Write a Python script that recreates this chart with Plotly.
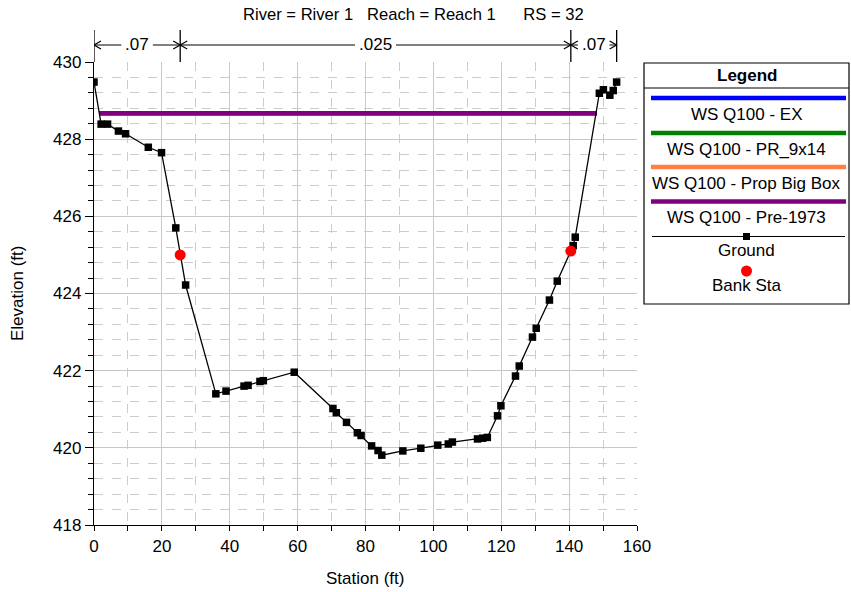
import plotly.graph_objects as go

# ---------------- data ----------------
ground_sta = [0.0, 2.1, 4.0, 7.2, 9.3, 16.0, 19.9, 24.1, 27.0, 35.9, 38.9, 44.2, 45.4,
              48.9, 49.9, 59.0, 70.4, 71.4, 74.4, 77.6, 78.7, 81.8, 83.7, 84.8, 91.0,
              96.3, 101.3, 104.4, 105.6, 113.0, 114.5, 115.9, 118.9, 119.9, 124.2,
              125.3, 129.2, 130.3, 134.2, 136.5, 141.2, 141.8, 148.9, 150.1, 152.0,
              153.0, 154.0]
ground_elev = [429.48, 428.39, 428.39, 428.21, 428.14, 427.79, 427.65, 425.70, 424.22,
               421.40, 421.47, 421.60, 421.62, 421.72, 421.74, 421.96, 421.02, 420.91,
               420.66, 420.39, 420.32, 420.05, 419.93, 419.81, 419.92, 419.99, 420.07,
               420.10, 420.15, 420.23, 420.25, 420.27, 420.83, 421.09, 421.86, 422.12,
               422.87, 423.10, 423.83, 424.32, 425.24, 425.46, 429.19, 429.28, 429.14,
               429.26, 429.48]
bank_sta = [25.4, 140.5]
bank_elev = [425.0, 425.1]

ws_names = ["WS Q100 - EX", "WS Q100 - PR_9x14", "WS Q100 - Prop Big Box", "WS Q100 - Pre-1973"]
ws_colors = ["#0000ff", "#008000", "#ff8040", "#800080"]
ws_sta = [1.5, 148.2]
ws_elev = [428.67, 428.67]

n_bounds = [0.0, 25.4, 140.5, 154.0]
n_values = [".07", ".025", ".07"]

title_text = "River = River 1   Reach = Reach 1      RS = 32"

# ---------------- layout constants ----------------
W, H = 851, 592
L, R, T, B = 94, 637, 62, 525
FONT = "Arial, Liberation Sans, sans-serif"
FS = 17
XR = [0, 160]
YR = [418, 430]


def xp(px):
    return (px - L) / (R - L)


def yp(py):
    return (B - py) / (B - T)


fig = go.Figure()

for name, col in zip(ws_names, ws_colors):
    fig.add_trace(go.Scatter(x=ws_sta, y=ws_elev, mode="lines", name=name,
                             line=dict(color=col, width=4.5), showlegend=False))

fig.add_trace(go.Scatter(x=ground_sta, y=ground_elev, mode="lines+markers", name="Ground",
                         line=dict(color="black", width=1.3),
                         marker=dict(symbol="square", size=7.5, color="black"),
                         showlegend=False))
fig.add_trace(go.Scatter(x=bank_sta, y=bank_elev, mode="markers", name="Bank Sta",
                         marker=dict(symbol="circle", size=11, color="#ff0000"),
                         showlegend=False))

shapes = []
annotations = []

# ---------------- Manning's n bar ----------------
px_per_x = (R - L) / (XR[1] - XR[0])
ybar = yp(45)
for b in n_bounds:
    shapes.append(dict(type="line", xref="x", yref="paper", x0=b, x1=b,
                       y0=yp(30), y1=yp(62), line=dict(color="black", width=1.3)))


def text_w(s, size=FS):
    w = {".": 0.278}
    return sum(w.get(c, 0.556) for c in s) * size


ah = 7 / px_per_x  # arrowhead length in data units
for i, n in enumerate(n_values):
    a, b = n_bounds[i], n_bounds[i + 1]
    c = (a + b) / 2
    half = (text_w(n) / 2 + 4) / px_per_x
    annotations.append(dict(x=c, y=ybar, xref="x", yref="paper", text=n, showarrow=False,
                            font=dict(size=FS, color="black", family=FONT),
                            xanchor="center", yanchor="middle"))
    if c - half > a + ah:
        shapes.append(dict(type="line", xref="x", yref="paper", x0=a, x1=c - half,
                           y0=ybar, y1=ybar, line=dict(color="black", width=1)))
        shapes.append(dict(type="line", xref="x", yref="paper", x0=c + half, x1=b,
                           y0=ybar, y1=ybar, line=dict(color="black", width=1)))
    dy = 4 / (B - T)
    for tip, d in ((a, 1), (b, -1)):
        shapes.append(dict(type="path", xref="x", yref="paper",
                           path=f"M {tip + d * ah} {ybar + dy} L {tip} {ybar} L {tip + d * ah} {ybar - dy}",
                           line=dict(color="black", width=1.2)))

# ---------------- top title ----------------
annotations.append(dict(x=xp(413), y=yp(15), xref="paper", yref="paper", text=title_text,
                        showarrow=False, font=dict(size=16.6, color="black", family=FONT),
                        xanchor="center", yanchor="middle"))

# ---------------- axis titles ----------------
annotations.append(dict(x=xp(365), y=yp(578), xref="paper", yref="paper", text="Station (ft)",
                        showarrow=False, font=dict(size=FS, color="black", family=FONT),
                        xanchor="center", yanchor="middle"))
annotations.append(dict(x=xp(17), y=yp(294), xref="paper", yref="paper", text="Elevation (ft)",
                        showarrow=False, textangle=-90,
                        font=dict(size=FS, color="black", family=FONT),
                        xanchor="center", yanchor="middle"))

# ---------------- custom legend ----------------
lx0, lx1, ly0, ly1 = 644, 849, 63, 304
shapes.append(dict(type="rect", xref="paper", yref="paper", x0=xp(lx0), x1=xp(lx1),
                   y0=yp(ly1), y1=yp(ly0), line=dict(color="black", width=1.2),
                   fillcolor="white", layer="below"))
shapes.append(dict(type="line", xref="paper", yref="paper", x0=xp(lx0), x1=xp(lx1),
                   y0=yp(88), y1=yp(88), line=dict(color="black", width=1)))
cx = (lx0 + lx1) / 2
annotations.append(dict(x=xp(cx), y=yp(75), xref="paper", yref="paper", text="<b>Legend</b>",
                        showarrow=False, font=dict(size=FS, color="black", family=FONT),
                        xanchor="center", yanchor="middle"))
line_y = [98, 133, 167, 201.5]
text_y = [114, 149, 183, 217]
for name, col, ly, ty in zip(ws_names, ws_colors, line_y, text_y):
    shapes.append(dict(type="line", xref="paper", yref="paper", x0=xp(651), x1=xp(846),
                       y0=yp(ly), y1=yp(ly), line=dict(color=col, width=4.5)))
    annotations.append(dict(x=xp(cx), y=yp(ty), xref="paper", yref="paper", text=name,
                            showarrow=False, font=dict(size=FS, color="black", family=FONT),
                            xanchor="center", yanchor="middle"))
# Ground entry
shapes.append(dict(type="line", xref="paper", yref="paper", x0=xp(652), x1=xp(845),
                   y0=yp(236.5), y1=yp(236.5), line=dict(color="black", width=1.2)))
shapes.append(dict(type="rect", xref="paper", yref="paper", x0=xp(cx - 3.5), x1=xp(cx + 3.5),
                   y0=yp(240), y1=yp(233), fillcolor="black", line=dict(width=0)))
annotations.append(dict(x=xp(cx), y=yp(251), xref="paper", yref="paper", text="Ground",
                        showarrow=False, font=dict(size=FS, color="black", family=FONT),
                        xanchor="center", yanchor="middle"))
# Bank Sta entry
shapes.append(dict(type="circle", xref="paper", yref="paper", x0=xp(cx - 5.5), x1=xp(cx + 5.5),
                   y0=yp(276.5), y1=yp(265.5), fillcolor="#ff0000", line=dict(width=0)))
annotations.append(dict(x=xp(cx), y=yp(285.5), xref="paper", yref="paper", text="Bank Sta",
                        showarrow=False, font=dict(size=FS, color="black", family=FONT),
                        xanchor="center", yanchor="middle"))

fig.update_layout(
    width=W, height=H,
    margin=dict(l=L, r=W - R, t=T, b=H - B, pad=0),
    plot_bgcolor="white", paper_bgcolor="white",
    showlegend=False,
    font=dict(family=FONT, size=FS, color="black"),
    shapes=shapes, annotations=annotations,
    xaxis=dict(range=XR, dtick=20, tick0=0, showgrid=True, gridcolor="#c8c8c8", gridwidth=1,
               showline=True, linecolor="black", linewidth=1.3, zeroline=False,
               ticks="outside", ticklen=5, tickcolor="black",
               tickfont=dict(size=FS, family=FONT),
               minor=dict(dtick=10, tick0=0, showgrid=True, gridcolor="#cccccc", griddash="dash",
                          gridwidth=1, ticks="outside", ticklen=5, tickcolor="black")),
    yaxis=dict(range=YR, dtick=2, tick0=418, showgrid=True, gridcolor="#c8c8c8", gridwidth=1,
               showline=True, linecolor="black", linewidth=1.3, zeroline=False,
               ticks="outside", ticklen=8, tickcolor="black",
               tickfont=dict(size=FS, family=FONT),
               minor=dict(dtick=0.4, tick0=418, showgrid=True, gridcolor="#cccccc", griddash="dash",
                          gridwidth=1, ticks="outside", ticklen=5, tickcolor="black")),
)

fig.write_html("out.html", config={"displayModeBar": False},
               post_script="document.body.style.margin='0';document.body.style.padding='0';")
